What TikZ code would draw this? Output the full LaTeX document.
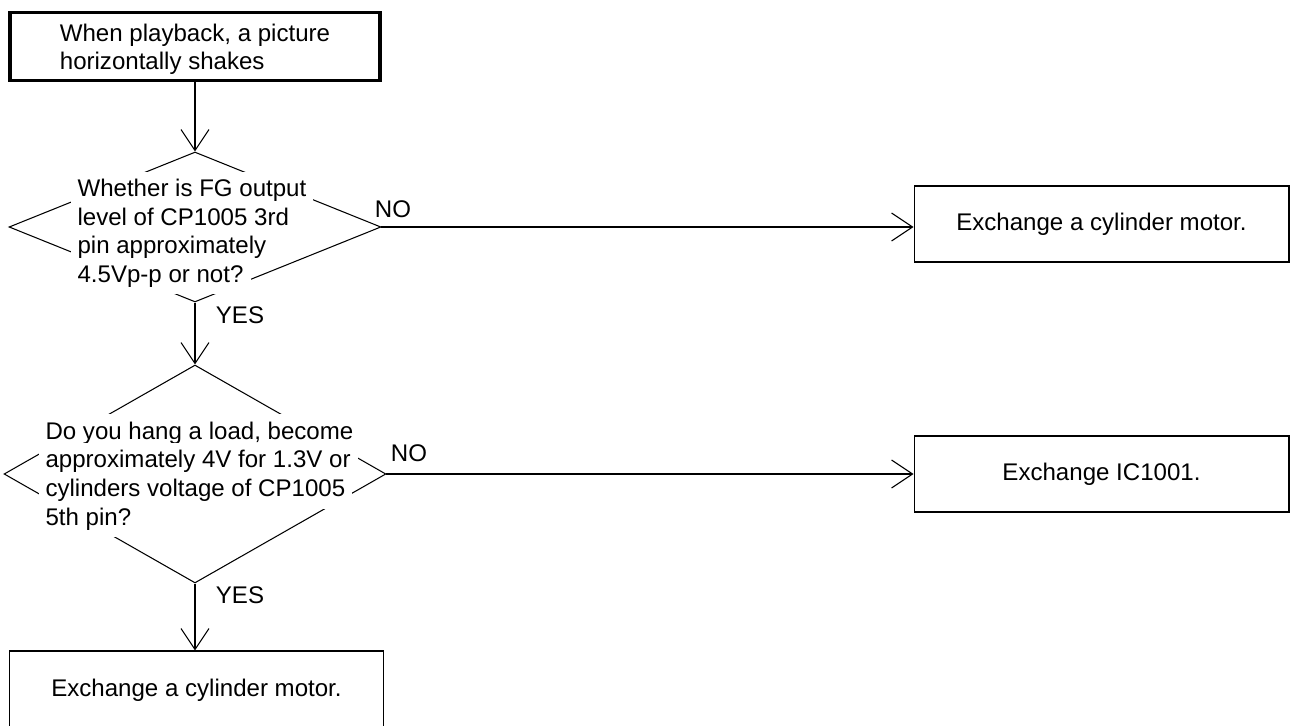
\documentclass[tikz,border=0pt]{standalone}
\usepackage{fontspec}
\setmainfont{Liberation Sans}
\usetikzlibrary{positioning, shapes.geometric, arrows.meta}

\begin{document}
\begin{tikzpicture}[x=0.02cm, y=-0.02cm, line width=0.6pt,
    font=\fontsize{13.7}{16.1}\selectfont,
    flow/.style={-{Straight Barb[length=0.42cm,width=0.56cm]}},
    box/.style={draw, rectangle, minimum width=7.5cm, minimum height=1.52cm, inner sep=0pt},
    decision/.style={draw, diamond, inner sep=0pt},
    qline/.style={fill=white, anchor=base west, inner sep=4pt, text height=10pt, text depth=3pt},
    lbl/.style={inner sep=0pt}]
  \useasboundingbox (0,0) rectangle (1292,726);

  % boxes
  \node[box, line width=2pt, minimum width=7.4cm, minimum height=1.36cm, align=left,
        text height=26pt, text depth=0pt] (start) at (195,46.5)
    {When playback, a picture\\horizontally shakes};
  \node[box] (motor1) at (1101.5,224) {Exchange a cylinder motor.};
  \node[box] (ic) at (1101.5,474) {Exchange IC1001.};
  \node[box, minimum height=1.56cm] (motor2) at (196.5,690) {Exchange a cylinder motor.};

  % decisions
  \node[decision, minimum width=7.44cm, minimum height=3cm] (fg) at (195,227) {};
  \node[decision, minimum width=7.64cm, minimum height=4.36cm] (load) at (195,474) {};

  \foreach \i/\txt in {0/{Whether is FG output}, 1/{level of CP1005 3rd}, 2/{pin approximately}, 3/{4.5Vp-p or not?}}
    \node[qline] (fgl\i) at (70, 197+28.4*\i) {\txt};
  \foreach \i/\txt in {0/{Do you hang a load, become}, 1/{approximately 4V for 1.3V or}, 2/{cylinders voltage of CP1005}, 3/{5th pin?}}
    \node[qline] (loadl\i) at (38, 439+28.7*\i) {\txt};

  % connectors
  \draw[flow] (start.south) -- (start.south |- fg.north);
  \draw[flow] (fg.south) -- (load.north);
  \draw[flow] (load.south) -- (load.south |- motor2.north);
  \draw[flow] (fg.east) -- (fg.east -| motor1.west);
  \draw[flow] (load.east) -- (load.east -| ic.west);

  \node[lbl] (no1) at (393,209) {NO};
  \node[lbl] (yes1) at (240,315) {YES};
  \node[lbl] (no2) at (409,453) {NO};
  \node[lbl] (yes2) at (240,595) {YES};
\end{tikzpicture}
\end{document}
